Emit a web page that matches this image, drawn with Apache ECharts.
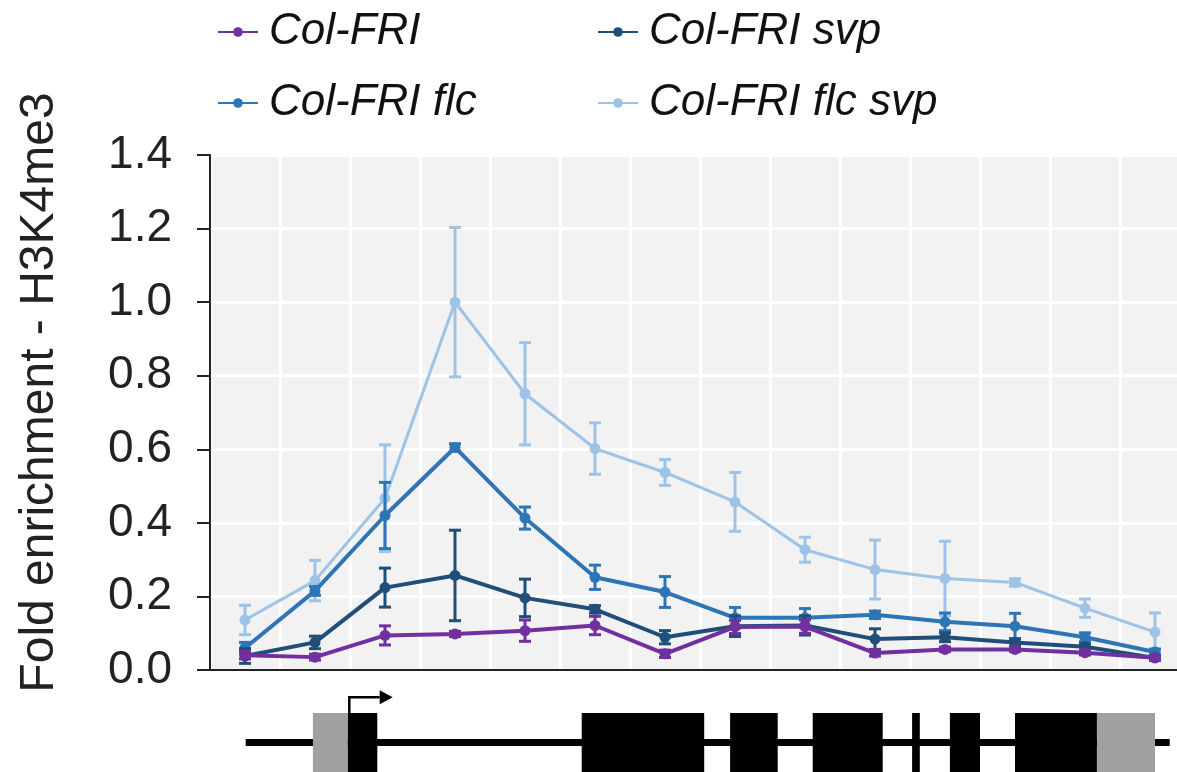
<!DOCTYPE html>
<html>
<head>
<meta charset="utf-8">
<script src="https://cdn.jsdelivr.net/npm/echarts@6/dist/echarts.min.js"></script>
<style>
  html, body { margin: 0; padding: 0; background: #ffffff; overflow: hidden; }
  #chart { width: 1191px; height: 772px; }
</style>
</head>
<body>
<div id="chart"></div>
<script>
// Amplicons tiled along the FLC locus (left to right)
const amplicons = ['A1','A2','A3','A4','A5','A6','A7','A8','A9','A10','A11','A12','A13','A14'];
const yTicks = [0, 0.2, 0.4, 0.6, 0.8, 1.0, 1.2, 1.4];

// Fold enrichment of H3K4me3 (mean) and standard error per genotype
const colFRI       = [0.040, 0.035, 0.094, 0.098, 0.107, 0.121, 0.044, 0.117, 0.118, 0.046, 0.056, 0.056, 0.047, 0.033];
const colFRISe     = [0.010, 0.008, 0.026, 0.007, 0.029, 0.025, 0.010, 0.018, 0.018, 0.008, 0.006, 0.006, 0.006, 0.005];
const colFRISvp    = [0.038, 0.075, 0.224, 0.257, 0.196, 0.165, 0.089, 0.119, 0.121, 0.084, 0.089, 0.075, 0.063, 0.033];
const colFRISvpSe  = [0.020, 0.017, 0.053, 0.123, 0.051, 0.010, 0.018, 0.028, 0.026, 0.028, 0.012, 0.010, 0.008, 0.007];
const colFRIFlc    = [0.060, 0.215, 0.420, 0.605, 0.413, 0.252, 0.212, 0.142, 0.142, 0.150, 0.131, 0.119, 0.089, 0.049];
const colFRIFlcSe  = [0.015, 0.012, 0.090, 0.010, 0.030, 0.033, 0.042, 0.028, 0.025, 0.010, 0.024, 0.035, 0.012, 0.008];
const colFRIFlcSvp   = [0.136, 0.243, 0.467, 1.000, 0.751, 0.602, 0.537, 0.457, 0.327, 0.273, 0.249, 0.238, 0.168, 0.103];
const colFRIFlcSvpSe = [0.040, 0.055, 0.145, 0.203, 0.139, 0.070, 0.035, 0.080, 0.034, 0.080, 0.101, 0.010, 0.025, 0.052];

// Gene model, in amplicon units along the same horizontal extent
const geneSpan   = [[0.51, 13.71]];
const utrBlocks  = [[1.47, 1.97], [12.67, 13.50]];
const cdsBlocks  = [[1.97, 2.39], [5.31, 7.06], [7.43, 8.11], [8.61, 9.61], [10.03, 10.14], [10.57, 11.00], [11.50, 12.67]];
const tssArrow   = [[1.99, 2.61]];

const COLORS = {
  'Col-FRI': '#7030a0',
  'Col-FRI svp': '#1f4e79',
  'Col-FRI flc': '#2e75b6',
  'Col-FRI flc svp': '#9dc3e6'
};

const FONT = 'Liberation Sans, Arial, sans-serif';

function lineSeries(name, values, width, z) {
  const color = COLORS[name];
  return {
    type: 'line', name: name, data: values,
    xAxisIndex: 0, yAxisIndex: 0,
    symbol: 'circle', symbolSize: 11,
    itemStyle: { color: color },
    lineStyle: { color: color, width: width },
    z: z
  };
}

function errorSeries(name, values, se, width, z) {
  const color = COLORS[name];
  return {
    type: 'custom', name: name + ' SE',
    xAxisIndex: 0, yAxisIndex: 0,
    data: values.map((v, i) => [i, v - se[i], v + se[i]]),
    encode: { x: 0, y: [1, 2] },
    z: z,
    renderItem: function (params, api) {
      const lo = api.coord([api.value(0), api.value(1)]);
      const hi = api.coord([api.value(0), api.value(2)]);
      const w = 6;
      const st = { stroke: color, lineWidth: width };
      return {
        type: 'group',
        children: [
          { type: 'line', shape: { x1: lo[0], y1: lo[1], x2: hi[0], y2: hi[1] }, style: st },
          { type: 'line', shape: { x1: lo[0] - w, y1: lo[1], x2: lo[0] + w, y2: lo[1] }, style: st },
          { type: 'line', shape: { x1: hi[0] - w, y1: hi[1], x2: hi[0] + w, y2: hi[1] }, style: st }
        ]
      };
    }
  };
}

function blockSeries(blocks, half, color) {
  return {
    type: 'custom', xAxisIndex: 1, yAxisIndex: 1, silent: true, clip: false,
    data: blocks.map(b => [b[0], b[1], half]),
    renderItem: function (params, api) {
      const h = api.value(2);
      const p0 = api.coord([api.value(0), h]);
      const p1 = api.coord([api.value(1), -h]);
      return {
        type: 'rect',
        shape: { x: p0[0], y: p0[1], width: p1[0] - p0[0], height: p1[1] - p0[1] },
        style: { fill: color }
      };
    }
  };
}

// Transcription start site arrow
const arrowSeries = {
  type: 'custom', xAxisIndex: 1, yAxisIndex: 1, silent: true, clip: false,
  data: tssArrow,
  renderItem: function (params, api) {
    const base = api.coord([api.value(0), 1]);
    const corner = api.coord([api.value(0), 1.53]);
    const tip = api.coord([api.value(1), 1.53]);
    const head = 13, hh = 7;
    return {
      type: 'group',
      children: [
        { type: 'polyline', shape: { points: [base, corner, [tip[0] - head, tip[1]]] },
          style: { stroke: '#000', lineWidth: 2.5, fill: null } },
        { type: 'polygon', shape: { points: [[tip[0] - head, tip[1] - hh], [tip[0], tip[1]], [tip[0] - head, tip[1] + hh]] },
          style: { fill: '#000' } }
      ]
    };
  }
};

const legendText = {
  fontSize: 44, fontStyle: 'italic', fontFamily: FONT,
  color: '#111', lineHeight: 46, padding: [0, 0, 0, 6]
};

const option = {
  animation: false,
  backgroundColor: '#ffffff',
  legend: [
    {
      left: 212, top: 4, orient: 'vertical', itemGap: 25,
      itemWidth: 40, itemHeight: 12,
      data: ['Col-FRI', 'Col-FRI flc'], textStyle: legendText
    },
    {
      left: 592, top: 4, orient: 'vertical', itemGap: 25,
      itemWidth: 40, itemHeight: 12,
      data: ['Col-FRI svp', 'Col-FRI flc svp'], textStyle: legendText
    }
  ],
  grid: [
    { left: 210, top: 155, width: 980, height: 515, show: true,
      backgroundColor: '#f2f2f2', borderColor: '#555', borderWidth: 2 },
    { left: 210, top: 713, width: 980, height: 68 }
  ],
  xAxis: [
    {
      type: 'category', gridIndex: 0, data: amplicons, boundaryGap: true,
      axisLine: { show: true, lineStyle: { color: '#222', width: 2 } },
      axisTick: { show: false },
      axisLabel: { show: false },
      splitLine: { show: true, interval: 0, lineStyle: { color: '#ffffff', width: 3 } }
    },
    { type: 'value', gridIndex: 1, min: 0, max: amplicons.length, show: false }
  ],
  yAxis: [
    {
      type: 'value', gridIndex: 0, min: yTicks[0], max: yTicks[yTicks.length - 1], interval: 0.2,
      name: 'Fold enrichment - H3K4me3', nameLocation: 'middle', nameRotate: 90, nameGap: 146,
      nameTextStyle: { fontSize: 48, color: '#222', fontFamily: FONT, padding: [0, 0, 0, 40] },
      axisLine: { show: true, lineStyle: { color: '#222', width: 2 } },
      axisTick: { show: true, length: 13, lineStyle: { color: '#222', width: 2 } },
      axisLabel: { fontSize: 46, color: '#222', margin: 38, fontFamily: FONT,
        formatter: v => v.toFixed(1) },
      splitLine: { show: true, lineStyle: { color: '#ffffff', width: 3 } }
    },
    { type: 'value', gridIndex: 1, min: -1, max: 1, show: false }
  ],
  series: [
    errorSeries('Col-FRI flc svp', colFRIFlcSvp, colFRIFlcSvpSe, 3, 2),
    lineSeries('Col-FRI flc svp', colFRIFlcSvp, 3, 2),
    errorSeries('Col-FRI flc', colFRIFlc, colFRIFlcSe, 3, 3),
    lineSeries('Col-FRI flc', colFRIFlc, 4, 3),
    errorSeries('Col-FRI svp', colFRISvp, colFRISvpSe, 3, 4),
    lineSeries('Col-FRI svp', colFRISvp, 4, 4),
    errorSeries('Col-FRI', colFRI, colFRISe, 3, 5),
    lineSeries('Col-FRI', colFRI, 4, 5),
    blockSeries(geneSpan, 0.12, '#000000'),
    blockSeries(utrBlocks, 1, '#a0a0a0'),
    blockSeries(cdsBlocks, 1, '#000000'),
    arrowSeries
  ]
};

const chart = echarts.init(document.getElementById('chart'));
chart.setOption(option);
</script>
</body>
</html>
